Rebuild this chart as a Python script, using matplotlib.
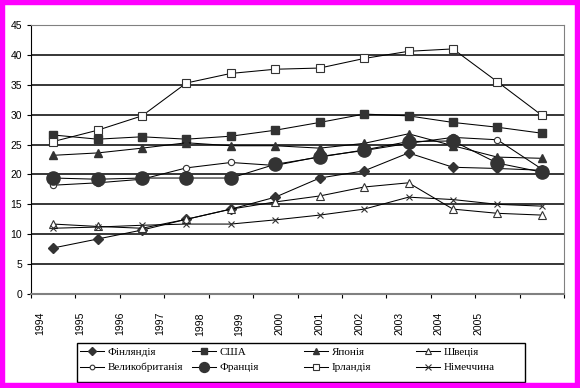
import matplotlib
matplotlib.use("Agg")
import matplotlib.pyplot as plt
from matplotlib.patches import Rectangle
import numpy as np

years = ['1994', '1995', '1996', '1997', '1998', '1999', '2000', '2001', '2002', '2003', '2004', '2005']

finland = [7.7, 9.2, 10.7, 12.5, 14.2, 16.2, 19.4, 20.6, 23.6, 21.2, 21.0, 20.7]
usa = [26.6, 25.9, 26.3, 25.9, 26.4, 27.4, 28.7, 30.1, 29.8, 28.7, 27.9, 26.9]
japan = [23.2, 23.6, 24.4, 25.3, 24.8, 24.8, 24.4, 25.2, 26.8, 24.8, 22.9, 22.7]
sweden = [11.7, 11.3, 11.0, 12.5, 14.2, 15.4, 16.4, 17.9, 18.6, 14.2, 13.5, 13.2]
uk = [18.2, 18.6, 19.2, 21.1, 22.0, 21.5, 23.0, 24.0, 25.2, 26.2, 25.8, 20.9]
france = [19.4, 19.2, 19.4, 19.4, 19.4, 21.7, 22.9, 24.1, 25.5, 25.6, 21.9, 20.4]
ireland = [25.5, 27.4, 29.8, 35.3, 36.9, 37.6, 37.8, 39.4, 40.6, 41.0, 35.5, 29.9]
germany = [11.0, 11.2, 11.5, 11.7, 11.7, 12.4, 13.2, 14.2, 16.2, 15.8, 15.0, 14.7]

fig = plt.figure(figsize=(5.8, 3.88), dpi=100, facecolor='white')

ax = fig.add_axes([31 / 580, 1 - 294 / 388, 533 / 580, 269 / 388])
x = np.arange(len(years))
dark = '#333333'
lw = 0.75

lines = []
lines += ax.plot(x, finland, '-', color='black', lw=lw, marker='D', ms=5, mfc=dark, mec=dark, label='Фінляндія')
lines += ax.plot(x, usa, '-', color='black', lw=lw, marker='s', ms=5.5, mfc=dark, mec=dark, label='США')
lines += ax.plot(x, japan, '-', color='black', lw=lw, marker='^', ms=6, mfc=dark, mec=dark, label='Японія')
lines += ax.plot(x, sweden, '-', color='black', lw=lw, marker='^', ms=6, mfc='white', mec=dark, mew=0.8, label='Швеція')
lines += ax.plot(x, uk, '-', color='black', lw=lw, marker='o', ms=4.5, mfc='white', mec=dark, mew=0.8, label='Великобританія')
lines += ax.plot(x, france, '-', color='black', lw=lw, marker='o', ms=9.5, mfc=dark, mec=dark, label='Франція')
lines += ax.plot(x, ireland, '-', color='black', lw=lw, marker='s', ms=6, mfc='white', mec=dark, mew=0.8, label='Ірландія')
lines += ax.plot(x, germany, '-', color='black', lw=lw, marker='x', ms=5, mec=dark, mew=0.8, label='Німеччина')

ax.set_xlim(-0.5, len(years) - 0.5)
ax.set_ylim(0, 45)
ax.set_yticks(range(0, 46, 5))
ax.yaxis.grid(True, color='black', lw=1.1)
ax.set_axisbelow(True)

# tick marks on category boundaries, labels placed as in the original
ax.set_xticks(np.arange(-0.5, len(years), 1.0))
ax.set_xticklabels([])
ax.tick_params(axis='x', which='major', length=3, color='black', direction='out')
ax.set_xticks(np.linspace(-0.29, 9.58, len(years)), minor=True)
ax.set_xticklabels(years, minor=True, rotation=90, fontsize=7.5, family='Liberation Sans')
ax.tick_params(axis='x', which='minor', length=0, pad=13)
ax.tick_params(axis='y', length=3, labelsize=7.5, pad=3.5)
for lab in ax.get_yticklabels():
    lab.set_family('Liberation Sans')

ax.spines['left'].set_color('black')
ax.spines['bottom'].set_color('#808080')
ax.spines['bottom'].set_linewidth(1.5)
ax.spines['top'].set_color('#808080')
ax.spines['right'].set_color('#808080')

# legend: four equal-width columns, two rows, inside one black box
box_left, box_right, box_top, box_bottom = 77, 525, 343, 382
col_w = (box_right - box_left) / 4
for c in range(4):
    pair = [lines[c], lines[c + 4]]
    fig.legend(pair, [h.get_label() for h in pair], loc='upper left',
               bbox_to_anchor=((box_left + c * col_w) / 580, 1 - (box_top + 1) / 388),
               prop={'family': 'Liberation Serif', 'size': 8},
               frameon=False, handlelength=2.2, handletextpad=0.3,
               borderaxespad=0, borderpad=0.25, labelspacing=0.55, markerscale=0.75)
fig.patches.append(Rectangle((box_left / 580, 1 - box_bottom / 388),
                             (box_right - box_left) / 580, (box_bottom - box_top) / 388,
                             transform=fig.transFigure, facecolor='none',
                             edgecolor='black', lw=1.0))

# magenta frame around the whole picture
fig.patches.append(Rectangle((0, 0), 1, 1, transform=fig.transFigure,
                             facecolor='none', edgecolor='#ff00ff', lw=7.5, zorder=10))

fig.savefig('out.png', dpi=100)
